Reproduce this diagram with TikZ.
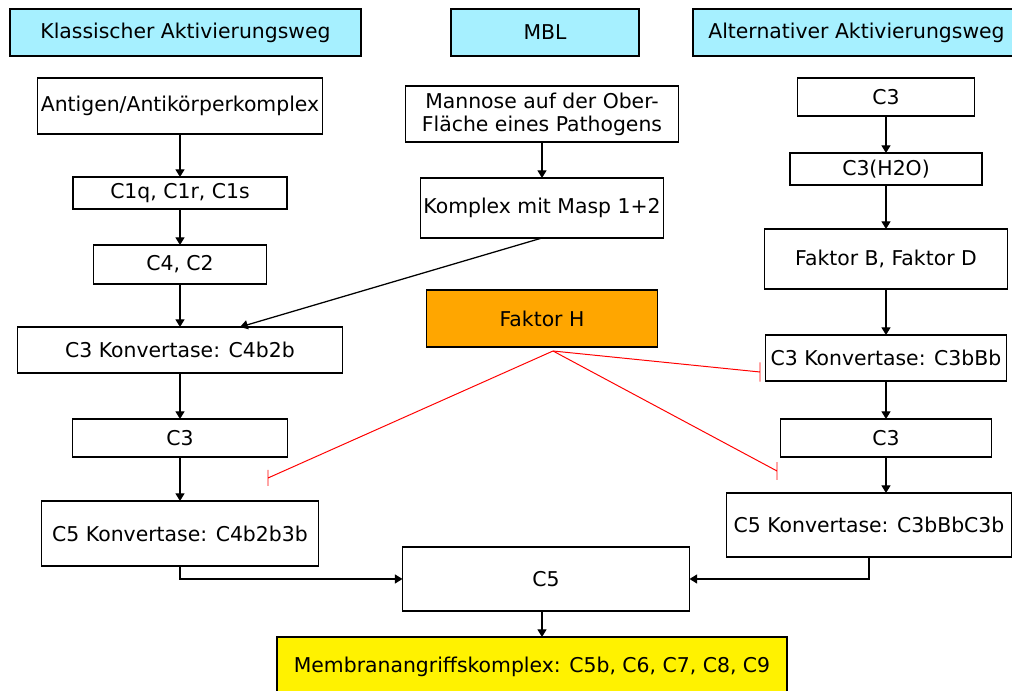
\documentclass[tikz,border=0pt]{standalone}
\usepackage{fontspec}
\setmainfont{DejaVu Sans}
\usetikzlibrary{arrows.meta, positioning}
\definecolor{headcyan}{RGB}{166,240,255}
\definecolor{factororange}{RGB}{255,166,0}
\definecolor{inhibred}{RGB}{255,0,0}

\begin{document}
\begin{tikzpicture}[
font=\fontsize{14.5}{16.5}\selectfont,
box/.style={
    draw,
    rectangle,
    line width=1pt,
    inner sep=0pt,
    outer sep=0pt,
    align=center
},
headbox/.style={box, fill=headcyan, minimum height=1.175cm},
arrow/.style={-{Triangle[length=5.5pt,width=6.5pt]}, line width=0.9pt},
inhib/.style={inhibred, line width=0.7pt}
]
\clip (0,0) rectangle (25.3,-17.275);

% Column heads
\node[headbox, minimum width=8.775cm] (headKlass) at (4.6375,-0.8125) {Klassischer Aktivierungsweg};
\node[headbox, minimum width=4.7cm] (headMBL) at (13.625,-0.8125) {MBL};
\node[headbox, minimum width=8.175cm] (headAlt) at (21.4125,-0.8125) {Alternativer Aktivierungsweg};

% Classical pathway
\node[box, minimum width=7.125cm, minimum height=1.4cm] (antigen) at (4.5,-2.65) {Antigen/Antikörperkomplex};
\node[box, below=1.075cm of antigen, minimum width=5.35cm, minimum height=0.8cm] (c1q) {C1q, C1r, C1s};
\node[box, below=0.9cm of c1q, minimum width=4.325cm, minimum height=0.975cm] (c4c2) {C4, C2};
\node[box, below=1.075cm of c4c2, minimum width=8.125cm, minimum height=1.15cm] (c3konvL) {C3 Konvertase: C4b2b};
\node[box, below=1.15cm of c3konvL, minimum width=5.375cm, minimum height=0.95cm] (c3L) {C3};
\node[box, below=1.1cm of c3L, minimum width=6.925cm, minimum height=1.625cm] (c5konvL) {C5 Konvertase: C4b2b3b};

% Lectin pathway
\node[box, minimum width=6.825cm, minimum height=1.4cm] (mannose) at (13.55,-2.85) {Mannose auf der Ober-\\Fläche eines Pathogens};
\node[box, below=0.9cm of mannose, minimum width=6.075cm, minimum height=1.5cm] (komplex) {Komplex mit Masp 1+2};
\node[box, below=1.3cm of komplex, fill=factororange, minimum width=5.775cm, minimum height=1.425cm] (faktorH) {Faktor H};

% Alternative pathway
\node[box, minimum width=4.425cm, minimum height=0.95cm] (c3R1) at (22.15,-2.425) {C3};
\node[box, below=0.925cm of c3R1, minimum width=4.8cm, minimum height=0.8cm] (c3h2o) {C3(H2O)};
\node[box, below=1.1cm of c3h2o, minimum width=6.075cm, minimum height=1.5cm] (faktorBD) {Faktor B, Faktor D};
\node[box, below=1.15cm of faktorBD, minimum width=6.025cm, minimum height=1.15cm] (c3konvR) {C3 Konvertase: C3bBb};
\node[box, below=0.95cm of c3konvR, minimum width=5.275cm, minimum height=0.95cm] (c3R2) {C3};
\node[box, below=0.9cm of c3R2, xshift=-0.425cm, minimum width=7.125cm, minimum height=1.6cm] (c5konvR) {C5 Konvertase: C3bBbC3b};

% Common end
\node[box, below=5cm of faktorH, xshift=0.1cm, minimum width=7.175cm, minimum height=1.6cm] (c5) {C5};
\node[box, below=0.65cm of c5, xshift=-0.35cm, fill=yellow, minimum width=12.75cm, minimum height=1.5cm] (mak) {Membranangriffskomplex: C5b, C6, C7, C8, C9};

% Arrows
\draw[arrow] (antigen) -- (c1q);
\draw[arrow] (c1q) -- (c4c2);
\draw[arrow] (c4c2) -- (c3konvL);
\draw[arrow] (c3konvL) -- (c3L);
\draw[arrow] (c3L) -- (c5konvL);
\draw[arrow] (mannose) -- (komplex);
\draw[arrow] (komplex.south) -- ([xshift=1.5cm]c3konvL.north);
\draw[arrow] (c3R1) -- (c3h2o);
\draw[arrow] (c3h2o) -- (faktorBD);
\draw[arrow] (faktorBD) -- (c3konvR);
\draw[arrow] (c3konvR) -- (c3R2);
\draw[arrow] (c3R2.south) -- (c3R2.south |- c5konvR.north);
\draw[arrow] (c5konvL.south) |- (c5.west);
\draw[arrow] (c5konvR.south) |- (c5.east);
\draw[arrow] ([xshift=-0.1cm]c5.south) -- ([xshift=-0.1cm]c5.south |- mak.north);

% Inhibition by Faktor H
\coordinate (hApex) at ([xshift=0.275cm, yshift=-0.1cm]faktorH.south);
\coordinate (inhL) at (6.7,-11.95);
\coordinate (inhC3) at (19.0,-9.3);
\coordinate (inhC5) at (19.425,-11.775);
\draw[inhib] (hApex) -- (inhL) ++(0,0.2) -- ++(0,-0.4);
\draw[inhib] (hApex) -- (inhC3) ++(0,0.24) -- ++(0,-0.48);
\draw[inhib] (hApex) -- (inhC5) ++(0,0.22) -- ++(0,-0.44);

\end{tikzpicture}
\end{document}
